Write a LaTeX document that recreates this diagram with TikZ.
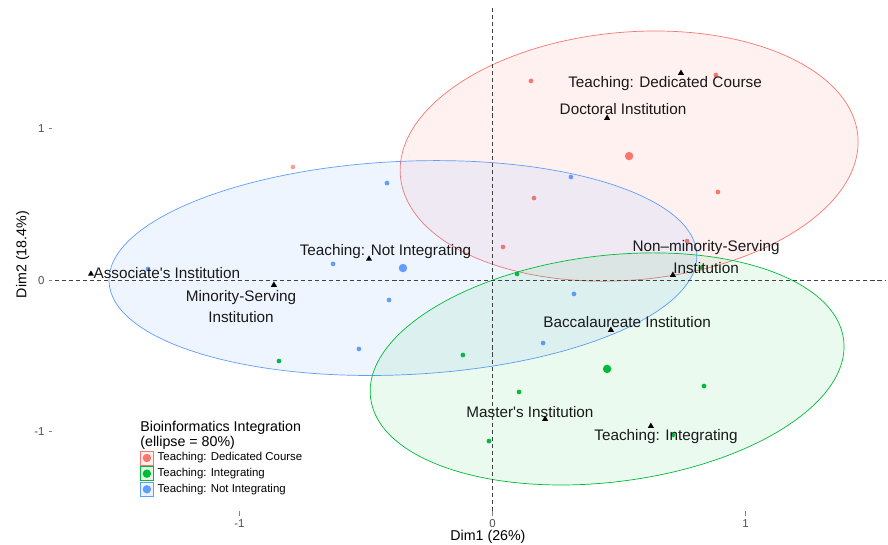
\documentclass[tikz,border=0pt]{standalone}
\usepackage{fontspec}
\setmainfont{Liberation Sans}
\usepackage{tikz}
\usetikzlibrary{positioning,shapes.geometric,calc}
\definecolor{ggRed}{HTML}{F8766D}
\definecolor{ggGreen}{HTML}{00BA38}
\definecolor{ggBlue}{HTML}{619CFF}
\definecolor{ggGray}{HTML}{4D4D4D}
\tikzset{
  obsdot/.style={circle, inner sep=0pt, minimum size=2.7pt},
  meandot/.style={obsdot, minimum size=4.8pt},
  catmark/.style={regular polygon, regular polygon sides=3, fill=black,
                  inner sep=0pt, minimum size=4pt},
  catlabel/.style={font=\fontsize{8.7}{12.4}\selectfont, inner sep=0pt,
                   align=center, text=black!90},
  confell/.style={line width=0.4pt, fill opacity=0.1},
  refline/.style={dash pattern=on 2.3pt off 1.7pt, black!75, line width=0.5pt},
  tickmark/.style={ggGray!70, line width=0.5pt},
  ticklabel/.style={font=\fontsize{6.5}{7}\selectfont, text=ggGray, inner sep=0pt},
  axtitle/.style={font=\fontsize{8.1}{9}\selectfont, inner sep=0pt},
  keybox/.style={draw, minimum size=7.9pt, inner sep=0pt, line width=0.4pt},
  keytext/.style={font=\fontsize{6.5}{7}\selectfont, anchor=west, inner sep=0pt},
}

\begin{document}
\begin{tikzpicture}[x=5.06cm, y=3.03cm]
\useasboundingbox (-1.9466,-1.7406) rectangle (1.5632,1.8502);
%% Individuals: Teaching: Dedicated Course
\node[obsdot, fill=ggRed] (dc1) at (0.152,1.316) {};
\node[obsdot, fill=ggRed] (dc2) at (0.883,1.355) {};
\node[obsdot, fill=ggRed] (dc3) at (0.164,0.543) {};
\node[obsdot, fill=ggRed] (dc4) at (0.891,0.583) {};
\node[obsdot, fill=ggRed] (dc5) at (0.0415,0.220) {};
\node[obsdot, fill=ggRed] (dc6) at (0.769,0.259) {};
\node[obsdot, fill=ggRed!70] (dc7) at (-0.789,0.748) {};
\node[meandot, fill=ggRed] (dcmean) at (0.540,0.820) {};
%% Individuals: Teaching: Integrating
\node[obsdot, fill=ggGreen] (ig1) at (0.097,0.042) {};
\node[obsdot, fill=ggGreen] (ig2) at (0.824,0.081) {};
\node[obsdot, fill=ggGreen] (ig3) at (0.836,-0.698) {};
\node[obsdot, fill=ggGreen] (ig4) at (0.105,-0.737) {};
\node[obsdot, fill=ggGreen] (ig5) at (-0.014,-1.061) {};
\node[obsdot, fill=ggGreen] (ig6) at (0.713,-1.021) {};
\node[obsdot, fill=ggGreen] (ig7) at (-0.117,-0.493) {};
\node[obsdot, fill=ggGreen] (ig8) at (-0.844,-0.533) {};
\node[meandot, fill=ggGreen] (igmean) at (0.453,-0.585) {};
%% Individuals: Teaching: Not Integrating
\node[obsdot, fill=ggBlue] (ni1) at (-0.417,0.642) {};
\node[obsdot, fill=ggBlue] (ni2) at (0.310,0.682) {};
\node[obsdot, fill=ggBlue] (ni3) at (-0.630,0.108) {};
\node[obsdot, fill=ggBlue] (ni4) at (-1.362,0.075) {};
\node[obsdot, fill=ggBlue] (ni5) at (-0.409,-0.130) {};
\node[obsdot, fill=ggBlue] (ni6) at (0.322,-0.090) {};
\node[obsdot, fill=ggBlue] (ni7) at (-0.528,-0.453) {};
\node[obsdot, fill=ggBlue] (ni8) at (0.200,-0.414) {};
\node[meandot, fill=ggBlue] (nimean) at (-0.354,0.081) {};
%% Concentration ellipses (80%)
\draw[confell, draw=ggRed, fill=ggRed, rotate around={5:(dcmean)}]
  (dcmean) ellipse [x radius=0.9075, y radius=0.818];
\draw[confell, draw=ggBlue, fill=ggBlue, rotate around={2.7:(nimean)}]
  (nimean) ellipse [x radius=1.163, y radius=0.704];
\draw[confell, draw=ggGreen, fill=ggGreen, fill opacity=0.08, rotate around={7:(igmean)}]
  (igmean) ellipse [x radius=0.942, y radius=0.747];
%% Reference lines
\draw[refline] (0,1.797) -- (0,-1.523);
\draw[refline] (-1.729,0) -- (1.55,0);
%% Axes
\foreach \yv in {-1,0,1} {
  \draw[tickmark] (-1.754,\yv) -- (-1.741,\yv);
  \node[ticklabel, anchor=east] (ytick\yv) at (-1.769,\yv) {\yv};
}
\foreach \xv in {-1,0,1} {
  \draw[tickmark] (\xv,-1.523) -- (\xv,-1.556);
  \node[ticklabel] (xtick\xv) at (\xv,-1.605) {\xv};
}
\node[axtitle] (xtitle) at (-0.018,-1.690) {Dim1 (26\%)};
\node[axtitle, rotate=90] (ytitle) at (-1.857,0.170) {Dim2 (18.4\%)};
%% Column categories
\node[catmark] (tdedic) at (0.745,1.368) {};
\node[catmark] (tdoct) at (0.453,1.071) {};
\node[catmark] (tnotint) at (-0.488,0.141) {};
\node[catmark] (tassoc) at (-1.587,0.042) {};
\node[catmark] (tminor) at (-0.864,-0.031) {};
\node[catmark] (tnonmin) at (0.713,0.035) {};
\node[catmark] (tbacc) at (0.468,-0.328) {};
\node[catmark] (tmaster) at (0.208,-0.916) {};
\node[catmark] (tinteg) at (0.626,-0.962) {};
\node[catlabel] (ltdedic) at (0.682,1.302) {Teaching: Dedicated Course};
\node[catlabel] (ltdoct) at (0.516,1.131) {Doctoral Institution};
\node[catlabel] (ltnotint) at (-0.423,0.193) {Teaching: Not Integrating};
\node[catlabel] (ltassoc) at (-1.287,0.048) {Associate\textquotesingle s Institution};
\node[catlabel] (ltminor) at (-0.994,-0.173) {Minority-Serving\\Institution};
\node[catlabel] (ltnonmin) at (0.844,0.154) {Non–minority-Serving\\Institution};
\node[catlabel] (ltbacc) at (0.532,-0.275) {Baccalaureate Institution};
\node[catlabel] (ltmaster) at (0.148,-0.869) {Master\textquotesingle s Institution};
\node[catlabel] (ltinteg) at (0.686,-1.028) {Teaching: Integrating};
%% Legend
\node[anchor=north west, align=left, inner sep=0pt,
      font=\fontsize{8.1}{8.6}\selectfont] (legtitle) at (-1.393,-0.926)
  {Bioinformatics Integration\\(ellipse = 80\%)};
\node[keybox, draw=ggRed, fill=ggRed!12] (keyded) at (-1.366,-1.173) {};
\node[keybox, draw=ggGreen, fill=ggGreen!12, below=0.6pt of keyded] (keyint) {};
\node[keybox, draw=ggBlue, fill=ggBlue!12, below=0.6pt of keyint] (keynot) {};
\fill[ggRed] (keyded.center) circle (2.4pt);
\fill[ggGreen] (keyint.center) circle (2.4pt);
\fill[ggBlue] (keynot.center) circle (2.4pt);
\node[keytext, right=1.8pt of keyded] (txtded) {Teaching: Dedicated Course};
\node[keytext, right=1.8pt of keyint] (txtint) {Teaching: Integrating};
\node[keytext, right=1.8pt of keynot] (txtnot) {Teaching: Not Integrating};
\end{tikzpicture}
\end{document}
